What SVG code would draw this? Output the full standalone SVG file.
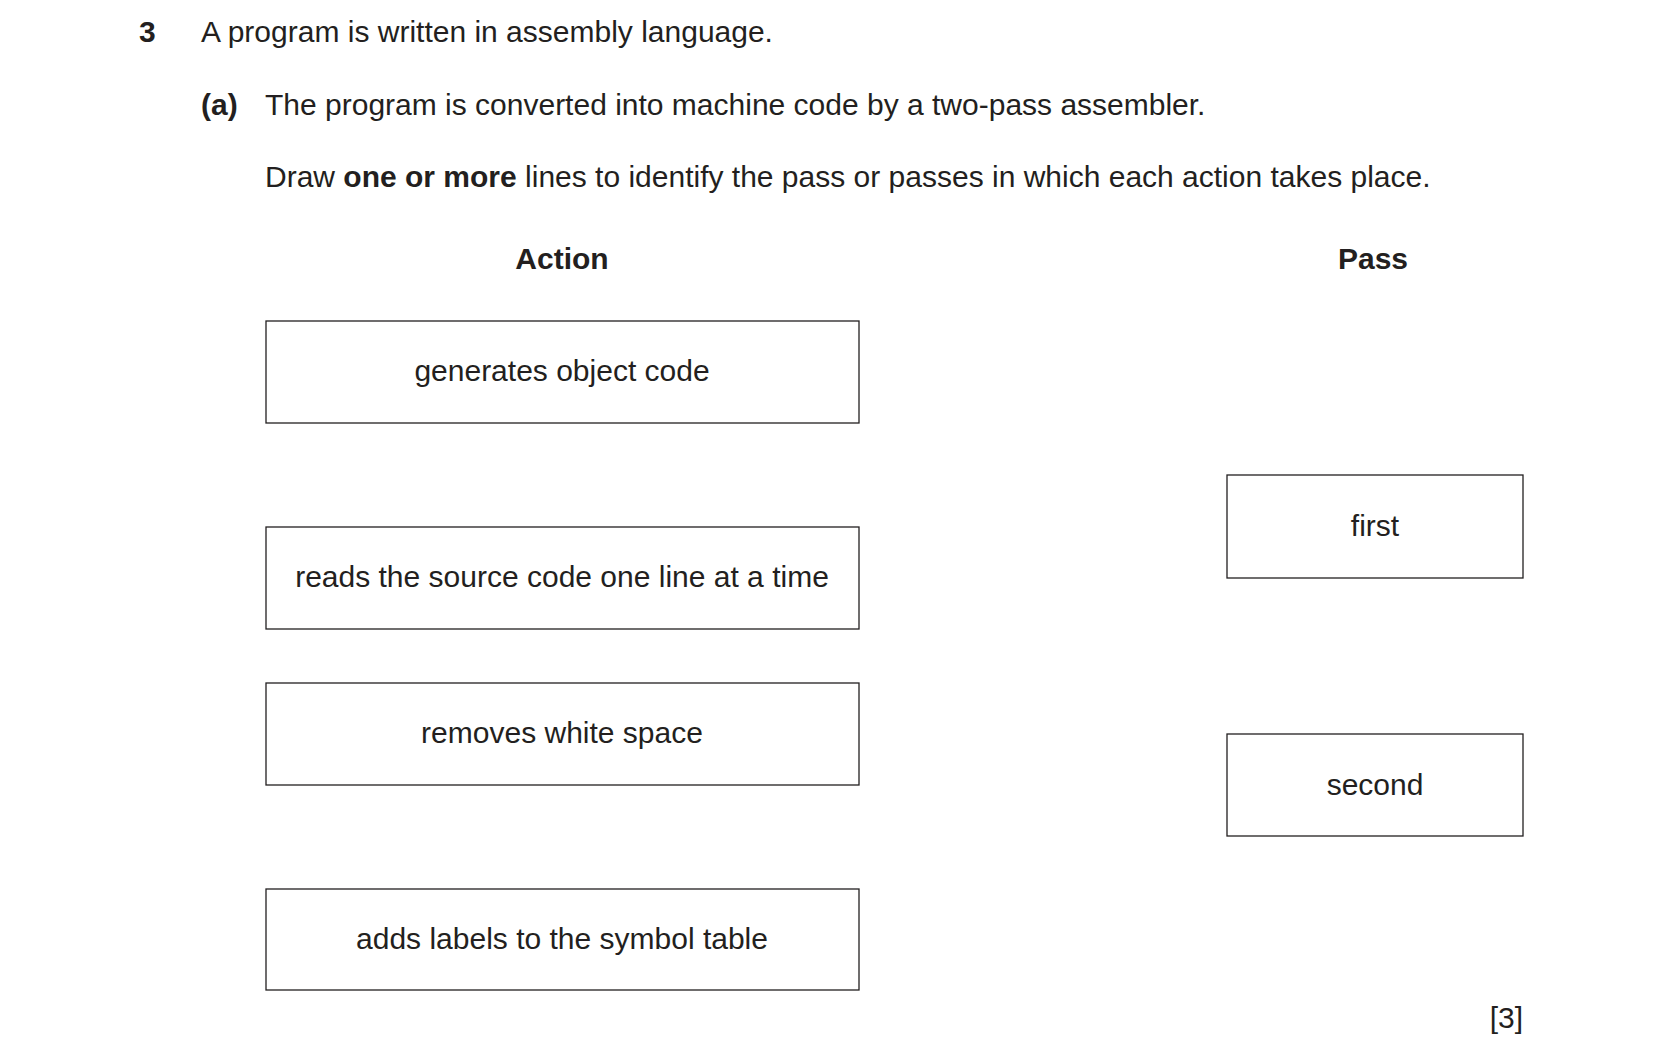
<svg xmlns="http://www.w3.org/2000/svg" width="1654" height="1048" viewBox="0 0 1654 1048">
<style>
text{font-family:"Liberation Sans",Arial,sans-serif;font-size:30px;fill:#231f20}
.b{font-weight:bold}
.c{text-anchor:middle}
rect{fill:#fff;stroke:#231f20;stroke-width:1.3}
</style>
<rect x="0" y="0" width="1654" height="1048" style="stroke:none"/>
<text x="139" y="42" class="b">3</text>
<text x="201" y="42">A program is written in assembly language.</text>
<text x="201" y="115" class="b">(a)</text>
<text x="265" y="115">The program is converted into machine code by a two-pass assembler.</text>
<text x="265" y="187">Draw <tspan class="b">one or more</tspan> lines to identify the pass or passes in which each action takes place.</text>
<text x="562" y="269" class="b c">Action</text>
<text x="1373" y="269" class="b c">Pass</text>
<g id="a1"><rect x="266" y="321" width="593" height="102"/><text x="562" y="381" class="c">generates object code</text></g>
<g id="a2"><rect x="266" y="527" width="593" height="102"/><text x="562" y="587" class="c">reads the source code one line at a time</text></g>
<g id="a3"><rect x="266" y="683" width="593" height="102"/><text x="562" y="743" class="c">removes white space</text></g>
<g id="a4"><rect x="266" y="889" width="593" height="101"/><text x="562" y="949" class="c">adds labels to the symbol table</text></g>
<g id="p1"><rect x="1227" y="475" width="296" height="103"/><text x="1375" y="536" class="c">first</text></g>
<g id="p2"><rect x="1227" y="734" width="296" height="102"/><text x="1375" y="795" class="c">second</text></g>
<g id="connectors"></g>
<text x="1523" y="1028" style="text-anchor:end">[3]</text>
</svg>
